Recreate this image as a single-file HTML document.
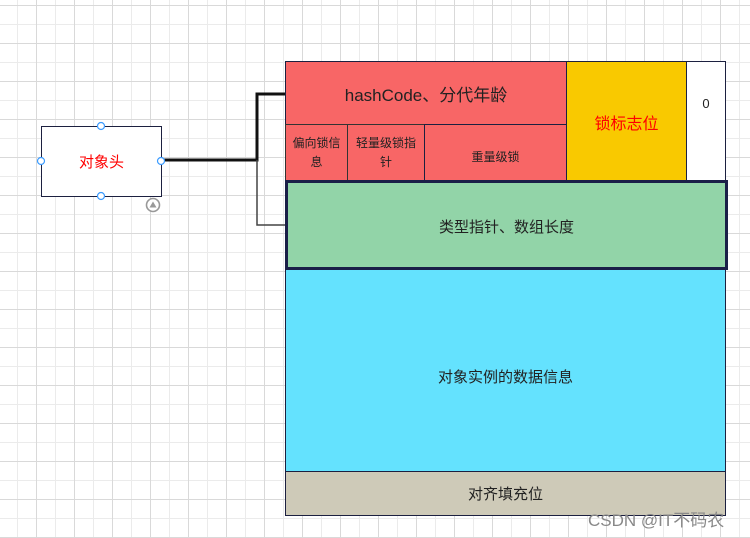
<!DOCTYPE html>
<html><head><meta charset="utf-8"><style>
body{margin:0;width:750px;height:538px;overflow:hidden;background:#fff;position:relative;font-family:"Liberation Sans","Noto Sans CJK SC",sans-serif}
.grid{position:absolute;left:0;top:0;width:750px;height:538px;
background-image:
linear-gradient(to right,#d9d9d9 1px,transparent 1px),
linear-gradient(to bottom,#d9d9d9 1px,transparent 1px),
linear-gradient(to right,#ebebeb 1px,transparent 1px),
linear-gradient(to bottom,#ebebeb 1px,transparent 1px);
background-size:38px 38px,38px 38px,19px 19px,19px 19px;
background-position:36px 0,0 5px,17px 0,0 5px;}
.b{position:absolute;box-sizing:border-box;display:flex;align-items:center;justify-content:center;text-align:center;color:#222}
</style></head><body>
<div class="grid"></div>
<div class="b" style="left:285px;top:61px;width:282px;height:64px;background:#f86666;border:1px solid #1c2040;font-size:17px">hashCode、分代年龄</div>
<div class="b" style="left:566px;top:61px;width:121px;height:121px;background:#f9c900;border:1px solid #1c2040;color:#f00;font-size:16px">锁标志位</div>
<div class="b" style="left:686px;top:61px;width:40px;height:121px;background:#fff;border:1px solid #1c2040;font-size:13px;align-items:flex-start;padding-top:34px">0</div>
<div class="b" style="left:285px;top:124px;width:63px;height:58px;background:#f86666;border:1px solid #333;font-size:12px;line-height:19px">偏向锁信<br>息</div>
<div class="b" style="left:347px;top:124px;width:78px;height:58px;background:#f86666;border:1px solid #333;font-size:12px;line-height:19px">轻量级锁指<br>针</div>
<div class="b" style="left:424px;top:124px;width:143px;height:58px;background:#f86666;border:1px solid #1c2040;font-size:12px;padding-top:6px">重量级锁</div>
<div class="b" style="left:285px;top:269px;width:441px;height:203px;background:#64e2fe;border:1px solid #1c2040;border-top:none;font-size:15px;padding-top:12px">对象实例的数据信息</div>
<div class="b" style="left:285px;top:180px;width:443px;height:90px;background:#92d4a8;border:3px solid #1a1f48;font-size:15px;padding-top:2px">类型指针、数组长度</div>
<div class="b" style="left:285px;top:471px;width:441px;height:45px;background:#cecab8;border:1px solid #1c2040;font-size:15px">对齐填充位</div>
<div class="b" style="left:41px;top:126px;width:121px;height:71px;background:#fff;border:1px solid #1c2040;color:#f00;font-size:15px">对象头</div>
<svg width="750" height="538" style="position:absolute;left:0;top:0">
<path d="M162 160 H257 V94 H285" fill="none" stroke="#111" stroke-width="3"/>
<path d="M257 160 V225 H285" fill="none" stroke="#444" stroke-width="1.5"/>
<g fill="#fff" stroke="#3c9cff" stroke-width="1.2">
<circle cx="101" cy="126" r="3.5"/><circle cx="101" cy="196" r="3.5"/><circle cx="41" cy="161" r="3.5"/><circle cx="161" cy="161" r="3.5"/></g>
<circle cx="153" cy="205" r="6.5" fill="#fff" stroke="#999" stroke-width="1.6"/>
<path d="M149.5 207.5 L153 201.5 L156.5 207.5Z" fill="#999"/>
<text x="588" y="526" font-size="17" fill="#888" font-family="Liberation Sans,Noto Sans CJK SC,sans-serif">CSDN @IT不码农</text>
</svg>
</body></html>
